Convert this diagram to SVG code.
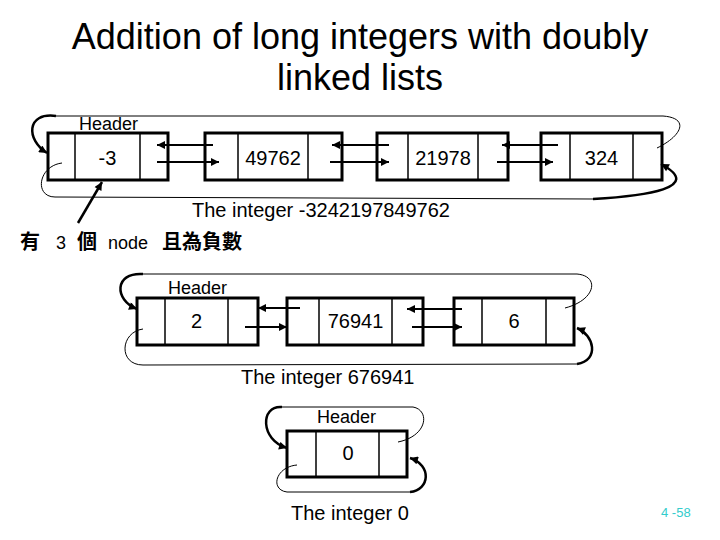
<svg xmlns="http://www.w3.org/2000/svg" width="720" height="540" viewBox="0 0 720 540">
<defs>
<marker id="ah" viewBox="0 0 10 10" refX="10" refY="5" markerWidth="10" markerHeight="8" markerUnits="userSpaceOnUse" orient="auto"><path d="M0,0 L10,5 L0,10 z" fill="#000"/></marker>
</defs>
<style>
.box{fill:#fff;stroke:#000;stroke-width:3}
.div{stroke:#000;stroke-width:1.5}
.t{font-family:"Liberation Sans",Arial,sans-serif;fill:#000}
.v{font-family:"Liberation Sans",Arial,sans-serif;font-size:20px;text-anchor:middle;fill:#000}
.h{font-family:"Liberation Sans",Arial,sans-serif;font-size:18px;fill:#000}
.ar{stroke:#000;stroke-width:2;fill:none;marker-end:url(#ah)}
.thin{stroke:#000;stroke-width:1;fill:none}
.thick{stroke:#000;stroke-width:2.5;fill:none;marker-end:url(#ah)}
</style>
<rect width="720" height="540" fill="#fff"/>
<g id="title">
<text class="t" x="360" y="49" font-size="36" text-anchor="middle">Addition of long integers with doubly</text>
<text class="t" x="360" y="90" font-size="36" text-anchor="middle">linked lists</text>
</g>
<g id="node-header1">
<rect class="box" x="48" y="133" width="120" height="47"/>
<line class="div" x1="75" y1="133" x2="75" y2="180"/>
<line class="div" x1="140" y1="133" x2="140" y2="180"/>
<text class="h" x="79" y="130">Header</text>
<text class="v" x="107.5" y="165">-3</text>
</g>
<g id="node-49762">
<rect class="box" x="205" y="133" width="137" height="47"/>
<line class="div" x1="238" y1="133" x2="238" y2="180"/>
<line class="div" x1="308" y1="133" x2="308" y2="180"/>
<text class="v" x="273" y="165">49762</text>
</g>
<g id="node-21978">
<rect class="box" x="377" y="133" width="131" height="47"/>
<line class="div" x1="408" y1="133" x2="408" y2="180"/>
<line class="div" x1="478" y1="133" x2="478" y2="180"/>
<text class="v" x="443" y="165">21978</text>
</g>
<g id="node-324">
<rect class="box" x="541" y="133" width="121" height="47"/>
<line class="div" x1="570" y1="133" x2="570" y2="180"/>
<line class="div" x1="633" y1="133" x2="633" y2="180"/>
<text class="v" x="601.5" y="165">324</text>
</g>
<g id="label1">
<text class="t" x="192" y="217" font-size="20">The integer -3242197849762</text>
<text font-family="'Noto Sans CJK TC','Noto Sans CJK SC',sans-serif" font-size="20" font-weight="bold" y="249"><tspan x="20">有</tspan><tspan x="56" font-family="'Liberation Sans',Arial,sans-serif" font-weight="normal" font-size="18">3</tspan><tspan x="77">個</tspan><tspan x="108" font-family="'Liberation Sans',Arial,sans-serif" font-weight="normal" font-size="18">node</tspan><tspan x="162">且為負數</tspan></text>
</g>
<g id="node-header2">
<rect class="box" x="137" y="298" width="121" height="47"/>
<line class="div" x1="165" y1="298" x2="165" y2="345"/>
<line class="div" x1="228" y1="298" x2="228" y2="345"/>
<text class="h" x="168" y="294">Header</text>
<text class="v" x="196.5" y="328">2</text>
</g>
<g id="node-76941">
<rect class="box" x="287" y="298" width="136" height="47"/>
<line class="div" x1="319" y1="298" x2="319" y2="345"/>
<line class="div" x1="392" y1="298" x2="392" y2="345"/>
<text class="v" x="355.5" y="328">76941</text>
</g>
<g id="node-6">
<rect class="box" x="454" y="298" width="120" height="47"/>
<line class="div" x1="482" y1="298" x2="482" y2="345"/>
<line class="div" x1="546" y1="298" x2="546" y2="345"/>
<text class="v" x="514" y="328">6</text>
</g>
<g id="label2">
<text class="t" x="241" y="384" font-size="20">The integer 676941</text>
</g>
<g id="node-header3">
<rect class="box" x="287" y="431" width="120" height="46"/>
<line class="div" x1="316" y1="431" x2="316" y2="477"/>
<line class="div" x1="379" y1="431" x2="379" y2="477"/>
<text class="h" x="317" y="423">Header</text>
<text class="v" x="348" y="460">0</text>
</g>
<g id="label3">
<text class="t" x="291" y="520" font-size="20">The integer 0</text>
<text class="t" x="661" y="517" font-size="13" style="fill:#33cccc">4 -58</text>
</g>
<g id="connectors">
<line class="ar" x1="213" y1="145" x2="157" y2="145"/>
<line class="ar" x1="157" y1="162" x2="219" y2="162"/>
<line class="ar" x1="389" y1="145" x2="332" y2="145"/>
<line class="ar" x1="330" y1="162" x2="389" y2="162"/>
<line class="ar" x1="558" y1="145" x2="502" y2="145"/>
<line class="ar" x1="497" y1="162" x2="553" y2="162"/>
<path class="thick" d="M56,116 C26,112 26,140 47,153"/>
<path class="thin" d="M56,116 L663,116 C690,118 682,136 657,148"/>
<path class="thin" d="M62,163 C38,166 34,197 55,197 L593,199"/>
<path class="thick" d="M593,199 C645,196 705,188 661,164"/>
<line class="thick" x1="78" y1="223" x2="102" y2="182"/>
<line class="ar" x1="300" y1="308" x2="258" y2="308"/>
<line class="ar" x1="245" y1="327" x2="287" y2="327"/>
<line class="ar" x1="462" y1="309" x2="407" y2="309"/>
<line class="ar" x1="412" y1="327" x2="462" y2="327"/>
<path class="thick" d="M143,274 C114,272 114,300 137,309"/>
<path class="thin" d="M143,274 L577,274 C600,276 596,300 565,308"/>
<path class="thin" d="M143,329 C120,332 118,365 143,365 L577,364"/>
<path class="thick" d="M577,364 C600,360 594,335 577,328"/>
<path class="thick" d="M282,407 C260,405 260,440 287,448"/>
<path class="thin" d="M282,407 L413,407 C430,410 428,436 398,442"/>
<path class="thin" d="M297,465 C275,467 270,490 287,492 L410,492"/>
<path class="thick" d="M410,492 C430,490 432,465 410,458"/>
</g>
</svg>
